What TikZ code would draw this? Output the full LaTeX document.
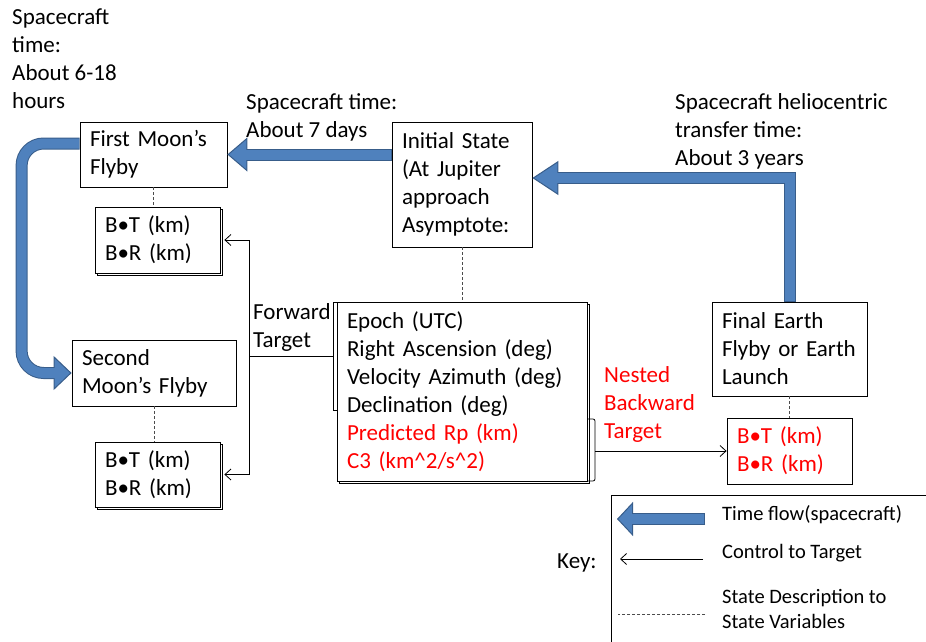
\documentclass[tikz,border=0pt]{standalone}
\usepackage{fontspec}
\setmainfont{Carlito}
\usetikzlibrary{arrows.meta,shadows}
\definecolor{flowfill}{HTML}{4F81BD}
\definecolor{flowedge}{HTML}{385D8A}

\tikzset{
  every node/.style={font=\fontsize{23pt}{28pt}\selectfont},
  box/.style={draw, line width=0.8pt, fill=white, align=left, inner xsep=10pt, inner ysep=0pt},
  stack/.style={box, copy shadow={shadow xshift=2pt, shadow yshift=-2pt, line width=0.6pt}},
  txt/.style={align=left, inner sep=0pt, anchor=west},
  keytxt/.style={txt, font=\fontsize{20.5pt}{24.5pt}\selectfont},
  flowout/.style={draw=flowedge, line width=12pt, -{Triangle[length=#1, width=34pt, line width=1pt, fill=flowfill]}},
  flowin/.style={draw=flowfill, line width=10pt, shorten >=#1, shorten <=0.8pt},
  ctl/.style={line width=0.8pt, -{Straight Barb[length=6pt, width=11pt]}},
  varlink/.style={densely dashed, line width=0.6pt, black!70},
}

\begin{document}
\begin{tikzpicture}[x=1pt, y=-1pt]
\useasboundingbox (0,0) rectangle (926,642);
% boxes
\node[box, text width=127pt, minimum height=65pt] (moon1) at (153.5,154.5) {First Moon’s\\Flyby};
\node[stack, text width=105pt, minimum height=66pt] (bt1) at (157.5,240) {B•T (km)\\B•R (km)};
\node[box, text width=144pt, minimum height=66pt] (moon2) at (154,373) {Second\\Moon’s Flyby};
\node[stack, text width=105pt, minimum height=65pt] (bt2) at (157.5,474.5) {B•T (km)\\B•R (km)};
\node[box, text width=120pt, minimum height=125pt] (init) at (462,184.5) {Initial State\\(At Jupiter\\approach\\Asymptote:};
\node[stack, text width=230pt, minimum height=179pt] (state) at (462,391.5) {Epoch (UTC)\\Right Ascension (deg)\\Velocity Azimuth (deg)\\Declination (deg)\\\textcolor{red}{Predicted Rp (km)}\\\textcolor{red}{C3 (km\textasciicircum 2/s\textasciicircum 2)}};
\node[box, text width=135pt, minimum height=94pt] (earth) at (789.5,349) {Final Earth\\Flyby or Earth\\Launch};
\node[box, text width=105pt, minimum height=66pt, text=red] (rbt) at (789.5,451) {B•T (km)\\B•R (km)};

% time labels
\node[txt] (t1) at (12,59) {Spacecraft\\time:\\About 6-18\\hours};
\node[txt] (t2) at (246,117) {Spacecraft time:\\About 7 days};
\node[txt] (t3) at (675,131) {Spacecraft heliocentric\\transfer time:\\About 3 years};
\node[txt] (fwdlbl) at (253,327) {Forward\\Target};
\node[txt, text=red] (nestlbl) at (604,404) {Nested\\Backward\\Target};

% state variables
\draw[varlink] (moon1.south) -- (moon1.south |- bt1.north);
\draw[varlink] (moon2.south) -- (moon2.south |- bt2.north);
\draw[varlink] (init.south) -- (state.north);
\draw[varlink] (earth.south) -- (earth.south |- rbt.north);

% targets
\draw[line width=0.8pt] (337,302) -| (333,410) -- (337,410);
\coordinate (brl) at (333,356);
\coordinate (fwd) at (249,356);
\draw[line width=0.8pt] (brl) -- (fwd);
\draw[ctl] (fwd) |- ([xshift=4pt]bt1.east);
\draw[ctl] (fwd) |- ([xshift=4pt]bt2.east);
\draw[line width=0.8pt, rounded corners=2pt] (587,419) -| (595,481) -- (587,481);
\coordinate (brr) at (595,451);
\draw[ctl] (brr) -- (rbt.west);

% time flow
\draw[flowout=20pt] (init.west |- moon1.east) -- (moon1.east);
\draw[flowin=18pt] (init.west |- moon1.east) -- (moon1.east);
\draw[flowout=26pt] (earth.north) |- ([yshift=6.5pt]init.east);
\draw[flowin=24pt] (earth.north) |- ([yshift=6.5pt]init.east);
\draw[flowout=18pt, rounded corners=22pt] ([yshift=11pt]moon1.west) -- ++(-58,0) |- (moon2.west);
\draw[flowin=16pt, rounded corners=22pt] ([yshift=11pt]moon1.west) -- ++(-58,0) |- (moon2.west);

% key
\draw[line width=0.8pt] (611,495) rectangle (940,660);
\node[txt] (key) at (557,563) {Key:};
\coordinate (k1s) at (705,519);
\coordinate (k1e) at (617,519);
\draw[flowout=16pt] (k1s) -- (k1e);
\draw[flowin=14pt] (k1s) -- (k1e);
\node[keytxt] (k1) at (722,515) {Time flow(spacecraft)};
\coordinate (k2s) at (703,559);
\coordinate (k2e) at (620,559);
\draw[ctl] (k2s) -- (k2e);
\node[keytxt] (k2) at (722,553) {Control to Target};
\coordinate (k3s) at (705,614);
\coordinate (k3e) at (618,614);
\draw[varlink] (k3s) -- (k3e);
\node[keytxt] (k3) at (722,609) {State Description to\\State Variables};
\end{tikzpicture}
\end{document}
